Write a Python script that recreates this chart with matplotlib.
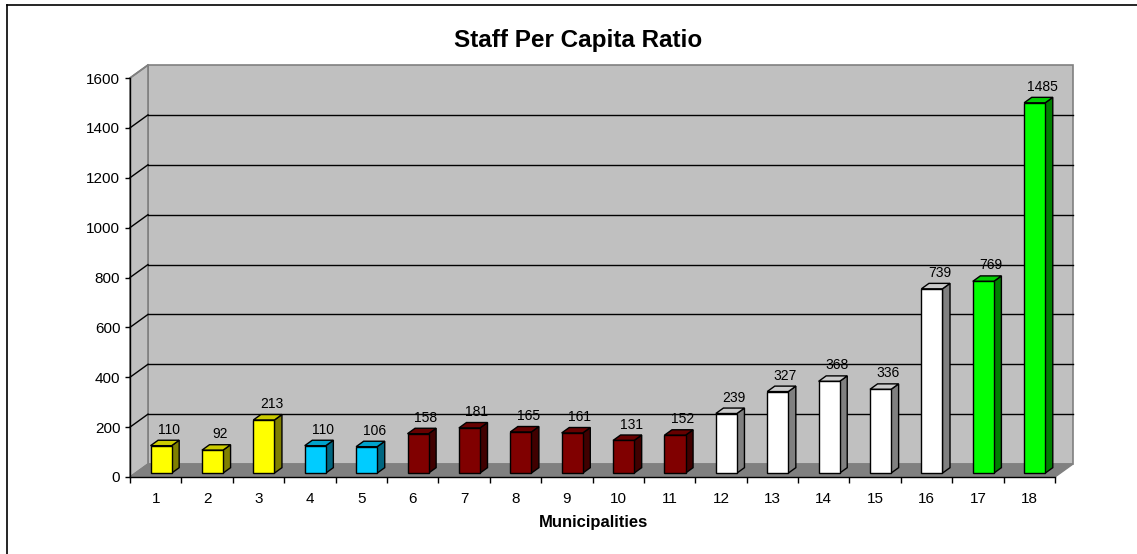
import matplotlib
matplotlib.use("Agg")
import matplotlib.pyplot as plt
from matplotlib.patches import Polygon
from matplotlib.lines import Line2D
from matplotlib.ticker import FixedLocator

plt.rcParams['font.family'] = ['Liberation Sans', 'DejaVu Sans']

# --- data ---
municipalities = list(range(1, 19))
staff_ratio = [110, 92, 213, 110, 106, 158, 181, 165, 161, 131, 152,
               239, 327, 368, 336, 739, 769, 1485]
groups = ['yellow', 'yellow', 'yellow', 'cyan', 'cyan',
          'red', 'red', 'red', 'red', 'red', 'red',
          'white', 'white', 'white', 'white', 'white',
          'green', 'green']
y_ticks = list(range(0, 1601, 200))

# face colours per group: (front, top, side)
palette = {
    'yellow': ('#FFFF00', '#CCCC00', '#808000'),
    'cyan':   ('#00CCFF', '#00A3CC', '#006680'),
    'red':    ('#800000', '#660000', '#400000'),
    'white':  ('#FFFFFF', '#CCCCCC', '#808080'),
    'green':  ('#00FF00', '#00CC00', '#008000'),
}

W, H = 1137, 554
fig = plt.figure(figsize=(W / 100, H / 100), dpi=100)
fig.patch.set_facecolor('white')

# front plane of the plot area, in pixels
left, right, bottom, top = 130, 1055, 477, 78
ax = fig.add_axes([left / W, (H - bottom) / H, (right - left) / W, (bottom - top) / H])
ax.set_xlim(0.5, 18.5)
ax.set_ylim(0, 1600)
ax.patch.set_visible(False)

# depth of the 3-D box in data units
DX, DY = 0.35, 52.0
x0, x1 = 0.5, 18.5

def poly(pts, fc, ec, lw=1.0, z=1):
    ax.add_patch(Polygon(pts, closed=True, facecolor=fc, edgecolor=ec,
                         linewidth=lw, zorder=z, clip_on=False, joinstyle='miter'))

# back wall, side wall, floor
poly([(x0 + DX, DY), (x1 + DX, DY), (x1 + DX, 1600 + DY), (x0 + DX, 1600 + DY)],
     '#C0C0C0', '#808080', 1.2, 0.5)
poly([(x0, 0), (x0 + DX, DY), (x0 + DX, 1600 + DY), (x0, 1600)],
     '#C0C0C0', '#808080', 1.2, 0.6)
poly([(x0, 0), (x1, 0), (x1 + DX, DY), (x0 + DX, DY)],
     '#808080', '#808080', 1.0, 0.7)

# gridlines on back and side walls
for yv in y_ticks[1:-1]:
    ax.add_line(Line2D([x0 + DX, x1 + DX], [yv + DY, yv + DY], color='#000000',
                       lw=1.0, zorder=0.8, clip_on=False))
    ax.add_line(Line2D([x0, x0 + DX], [yv, yv + DY], color='#000000',
                       lw=1.0, zorder=0.8, clip_on=False))
ax.add_line(Line2D([x0, x0 + DX], [1600, 1600 + DY], color='#808080',
                   lw=1.2, zorder=0.8, clip_on=False))

# 3-D bars
f_front, f_back = 0.30, 0.72
half_w = 0.205
ddx, ddy = (f_back - f_front) * DX, (f_back - f_front) * DY
for m, v, g in zip(municipalities, staff_ratio, groups):
    fc, tc, sc = palette[g]
    cx = m + f_front * DX
    xl, xr = cx - half_w, cx + half_w
    yb, yt = f_front * DY, v + f_front * DY
    poly([(xr, yb), (xr + ddx, yb + ddy), (xr + ddx, yt + ddy), (xr, yt)], sc, 'black', 1.0, 2)
    poly([(xl, yt), (xr, yt), (xr + ddx, yt + ddy), (xl + ddx, yt + ddy)], tc, 'black', 1.0, 2)
    poly([(xl, yb), (xr, yb), (xr, yt), (xl, yt)], fc, 'black', 1.0, 2)
    ax.annotate(str(v), xy=(m + f_back * DX, yt + ddy), xytext=(0, 2.5),
                textcoords='offset points', ha='center', va='bottom',
                fontsize=10, color='black', zorder=3, annotation_clip=False)

# axes
for s in ('top', 'right'):
    ax.spines[s].set_visible(False)
for s in ('left', 'bottom'):
    ax.spines[s].set_color('black')
    ax.spines[s].set_linewidth(1.0)
    ax.spines[s].set_zorder(4)

ax.set_yticks(y_ticks)
ax.set_yticklabels([str(t) for t in y_ticks])
ax.tick_params(axis='y', direction='out', length=3.6, width=1.0, pad=3.4,
               labelsize=11, colors='black')
ax.set_xticks(municipalities)
ax.set_xticklabels([str(m) for m in municipalities])
ax.tick_params(axis='x', which='major', length=0, pad=10.5, labelsize=11)
ax.xaxis.set_minor_locator(FixedLocator([i + 0.5 for i in range(0, 19)]))
ax.tick_params(axis='x', which='minor', direction='out', length=4.5, width=1.0, colors='black')

# titles
fig.text(578 / W, 1 - 40 / H, 'Staff Per Capita Ratio', ha='center', va='center',
         fontsize=17.5, fontweight='bold')
fig.text(593 / W, 1 - 523 / H, 'Municipalities', ha='center', va='center',
         fontsize=12, fontweight='bold')

# chart area frame
fig.add_artist(Line2D([7 / W, 1], [1 - 5 / H, 1 - 5 / H], color='black', lw=1.2,
                      transform=fig.transFigure))
fig.add_artist(Line2D([7 / W, 7 / W], [0, 1 - 5 / H], color='black', lw=1.2,
                      transform=fig.transFigure))

fig.savefig('out.png', dpi=100)
